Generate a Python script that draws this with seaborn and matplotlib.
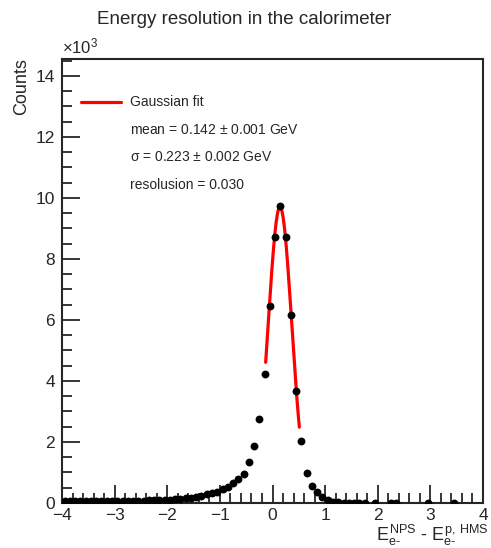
import numpy as np
import pandas as pd
import seaborn as sns
import matplotlib
matplotlib.use("Agg")
import matplotlib.pyplot as plt
from matplotlib.lines import Line2D
from matplotlib.ticker import MultipleLocator, FuncFormatter

# bin centres (GeV) and counts
bin_centers = [-3.95, -3.85, -3.75, -3.65, -3.55, -3.45, -3.35, -3.25, -3.15, -3.05,
               -2.95, -2.85, -2.75, -2.65, -2.55, -2.45, -2.35, -2.25, -2.15, -2.05,
               -1.95, -1.85, -1.75, -1.65, -1.55, -1.45, -1.35, -1.25, -1.15, -1.05,
               -0.95, -0.85, -0.75, -0.65, -0.55, -0.45, -0.35, -0.25, -0.15, -0.05,
               0.05, 0.15, 0.25, 0.35, 0.45, 0.55, 0.65, 0.75, 0.85, 0.95,
               1.05, 1.15, 1.25, 1.35, 1.45, 1.55, 1.65, 1.75, 1.95, 2.25,
               2.35, 2.95, 3.45]
counts = [60, 55, 60, 58, 62, 60, 64, 62, 66, 65,
          68, 70, 72, 74, 76, 80, 84, 88, 94, 100,
          108, 120, 140, 160, 180, 200, 240, 280, 320, 370,
          470, 530, 650, 800, 950, 1330, 1870, 2740, 4220, 6460,
          8710, 9720, 8710, 6150, 3670, 2040, 990, 560, 360, 190,
          90, 40, 20, 12, 10, 8, 6, 5, 3, 2,
          2, 1, 1]

# gaussian fit result
fit_amp = 9700.0
fit_mean = 0.142
fit_sigma = 0.223
fit_range = (-0.13, 0.51)
resolution = 0.030

hist = pd.DataFrame({"x": bin_centers, "y": counts})
fx = np.linspace(fit_range[0], fit_range[1], 200)
fit = pd.DataFrame({"x": fx, "y": fit_amp * np.exp(-0.5 * ((fx - fit_mean) / fit_sigma) ** 2)})

sns.set_style("ticks")
plt.rcParams["font.family"] = ["Liberation Sans", "DejaVu Sans"]
plt.rcParams["mathtext.fontset"] = "custom"
plt.rcParams["mathtext.rm"] = "Liberation Sans"
plt.rcParams["mathtext.it"] = "Liberation Sans"
plt.rcParams["mathtext.bf"] = "Liberation Sans"
plt.rcParams["axes.unicode_minus"] = True

fig = plt.figure(figsize=(4.91, 5.48), dpi=100)
ax = fig.add_axes([62 / 491, 1 - 503 / 548, 421 / 491, 444 / 548])

sns.lineplot(data=fit, x="x", y="y", color="red", linewidth=2.3, ax=ax,
             label="Gaussian fit", zorder=2)
sns.scatterplot(data=hist, x="x", y="y", color="black", s=32, edgecolor="black",
                linewidth=0, ax=ax, zorder=3, legend=False)

ax.set_xlim(-4, 4)
ax.set_ylim(0, 14550)
ax.xaxis.set_major_locator(MultipleLocator(1))
ax.xaxis.set_minor_locator(MultipleLocator(0.2))
ax.yaxis.set_major_locator(MultipleLocator(2000))
ax.yaxis.set_minor_locator(MultipleLocator(500))
ax.yaxis.set_major_formatter(FuncFormatter(lambda v, p: f"{v / 1000:g}".replace("-", "\u2212")))
ax.tick_params(which="major", direction="in", length=13, width=1.3, labelsize=12.5, pad=5)
ax.tick_params(axis="x", which="major", pad=3.5)
ax.tick_params(which="minor", direction="in", length=7, width=1.3)
ax.tick_params(top=False, right=False)
for s in ax.spines.values():
    s.set_linewidth(1.5)
ax.set_xlabel("")
ax.set_ylabel("")

handles = [Line2D([], [], color="red", linewidth=2.3)] + [Line2D([], [], linestyle="none")] * 3
labels = ["Gaussian fit",
          f"mean = {fit_mean:.3f} $\\pm$ 0.001 GeV",
          f"$\\sigma$ = {fit_sigma:.3f} $\\pm$ 0.002 GeV",
          f"resolusion = {resolution:.3f}"]
ax.legend(handles, labels, loc="upper left", bbox_to_anchor=(0.045, 0.918),
          frameon=False, fontsize=10, handlelength=2.9, handletextpad=0.65,
          labelspacing=0.97, borderpad=0, borderaxespad=0)

fig.text(0.498, 1 - 20 / 548, "Energy resolution in the calorimeter",
         ha="center", va="center", fontsize=13.5)
fig.text(62 / 491, 1 - 56 / 548, r"$\times10^{3}$", ha="left", va="bottom", fontsize=12)
fig.text(22 / 491, 1 - 58 / 548, "Counts", rotation=90, ha="center", va="top", fontsize=13)
fig.text(489 / 491, 1 - 523 / 548,
         r"$E^{NPS}_{e\text{-}}$ - $E^{p,\,HMS}_{e\text{-}}$",
         ha="right", va="top", fontsize=13)

fig.savefig("out.png", dpi=100)
